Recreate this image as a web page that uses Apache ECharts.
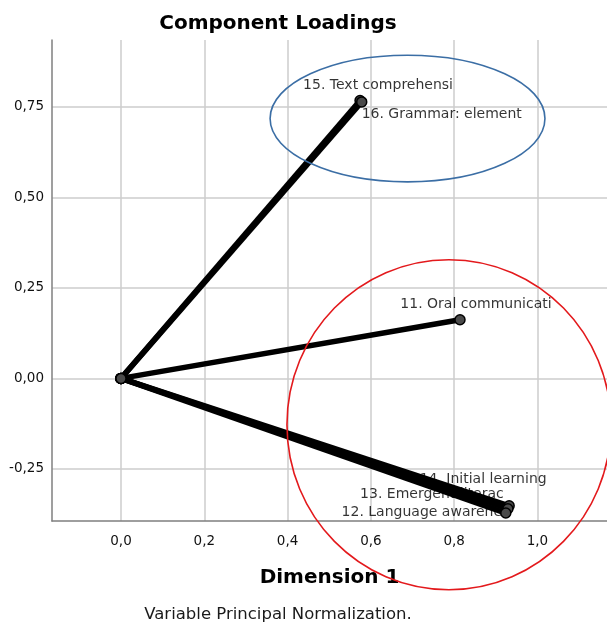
<!DOCTYPE html>
<html>
<head>
<meta charset="utf-8">
<script src="https://cdn.jsdelivr.net/npm/echarts@6/dist/echarts.min.js"></script>
<style>
html,body{margin:0;padding:0;background:#fff;}
#chart{width:607px;height:624px;}
</style>
</head>
<body>
<div id="chart"></div>
<script>
// ---- data ----
const variableNames = [
  "15. Text comprehensi",
  "16. Grammar: element",
  "11. Oral communicati",
  "14. Initial learning",
  "13. Emergent literac",
  "12. Language awarene"
];
const dimension1 = [0.574, 0.578, 0.814, 0.932, 0.929, 0.924];
const dimension2 = [0.768, 0.764, 0.162, -0.352, -0.360, -0.372];
const xTickValues = [0, 0.2, 0.4, 0.6, 0.8, 1.0];
const yTickValues = [-0.25, 0, 0.25, 0.5, 0.75];
const origin = [0, 0];

// ---- presentation ----
const labelOffsets = [[18, -15], [80, 12], [16, -15], [-26, -26], [-76, -14], [-84, -1]];
const FONT = '"DejaVu Sans", sans-serif';

const chart = echarts.init(document.getElementById('chart'), null, {renderer: 'canvas'});

const lineSeries = variableNames.map((name, i) => ({
  type: 'line',
  name: name,
  z: 3,
  data: [origin, [dimension1[i], dimension2[i]]],
  symbol: 'circle',
  symbolSize: 10,
  showSymbol: true,
  lineStyle: {color: '#000', width: 5.5},
  itemStyle: {color: '#4a4a4a', borderColor: '#000', borderWidth: 1.5},
  emphasis: {disabled: true},
  animation: false
}));

const labelSeries = {
  type: 'scatter',
  z: 2,
  symbolSize: 0,
  silent: true,
  animation: false,
  data: variableNames.map((name, i) => ({
    value: [dimension1[i], dimension2[i]],
    label: {
      show: true,
      formatter: name,
      position: 'inside',
      offset: labelOffsets[i],
      align: 'center',
      verticalAlign: 'middle',
      color: '#000',
      fontFamily: FONT,
      fontSize: 14
    }
  }))
};

const xMin = -0.1657, xMax = 1.167, yMin = -0.394, yMax = 0.935;

chart.setOption({
  backgroundColor: '#fff',
  animation: false,
  grid: {left: 52, right: 0, top: 40, bottom: 103, containLabel: false},
  xAxis: {
    type: 'value', min: xMin, max: xMax,
    name: 'Dimension 1', nameLocation: 'middle', nameGap: 47,
    nameTextStyle: {fontFamily: FONT, fontSize: 20, fontWeight: 'bold', color: '#000'},
    axisLine: {show: true, onZero: false, lineStyle: {color: '#7f7f7f', width: 1.5}},
    axisTick: {show: false, customValues: xTickValues},
    axisLabel: {customValues: xTickValues, margin: 13, color: '#111', fontFamily: FONT, fontSize: 13.5,
      formatter: v => v.toFixed(1).replace('.', ',')},
    splitLine: {show: true, lineStyle: {color: '#cccccc', width: 1.5}}
  },
  yAxis: {
    type: 'value', min: yMin, max: yMax,
    axisLine: {show: true, onZero: false, lineStyle: {color: '#7f7f7f', width: 1.5}},
    axisTick: {show: false, customValues: yTickValues},
    axisLabel: {customValues: yTickValues, margin: 8, color: '#111', fontFamily: FONT, fontSize: 13.5,
      formatter: v => v.toFixed(2).replace('.', ',')},
    splitLine: {show: true, lineStyle: {color: '#cccccc', width: 1.5}}
  },
  series: [labelSeries].concat(lineSeries)
});

// annotation ellipses, defined in data units
const annotations = [
  {cx: 0.688, cy: 0.718, rx: 0.330, ry: 0.175, color: '#3b6ea5'},
  {cx: 0.7875, cy: -0.128, rx: 0.389, ry: 0.456, color: '#e3191c'}
];
const graphics = annotations.map(a => {
  const c = chart.convertToPixel({gridIndex: 0}, [a.cx, a.cy]);
  const e = chart.convertToPixel({gridIndex: 0}, [a.cx + a.rx, a.cy + a.ry]);
  return {
    type: 'ellipse', z: 10, silent: true,
    shape: {cx: c[0], cy: c[1], rx: Math.abs(e[0] - c[0]), ry: Math.abs(c[1] - e[1])},
    style: {fill: null, stroke: a.color, lineWidth: 1.6}
  };
});
graphics.push({
  type: 'text', x: 278, y: 24, z: 10,
  style: {text: 'Component Loadings', textAlign: 'center', textVerticalAlign: 'middle',
    font: 'bold 20px "DejaVu Sans", sans-serif', fill: '#000'}
});
graphics.push({
  type: 'text', x: 278, y: 615, z: 10,
  style: {text: 'Variable Principal Normalization.', textAlign: 'center', textVerticalAlign: 'middle',
    font: '16.5px "DejaVu Sans", sans-serif', fill: '#1a1a1a'}
});
chart.setOption({graphic: graphics});
</script>
</body>
</html>
